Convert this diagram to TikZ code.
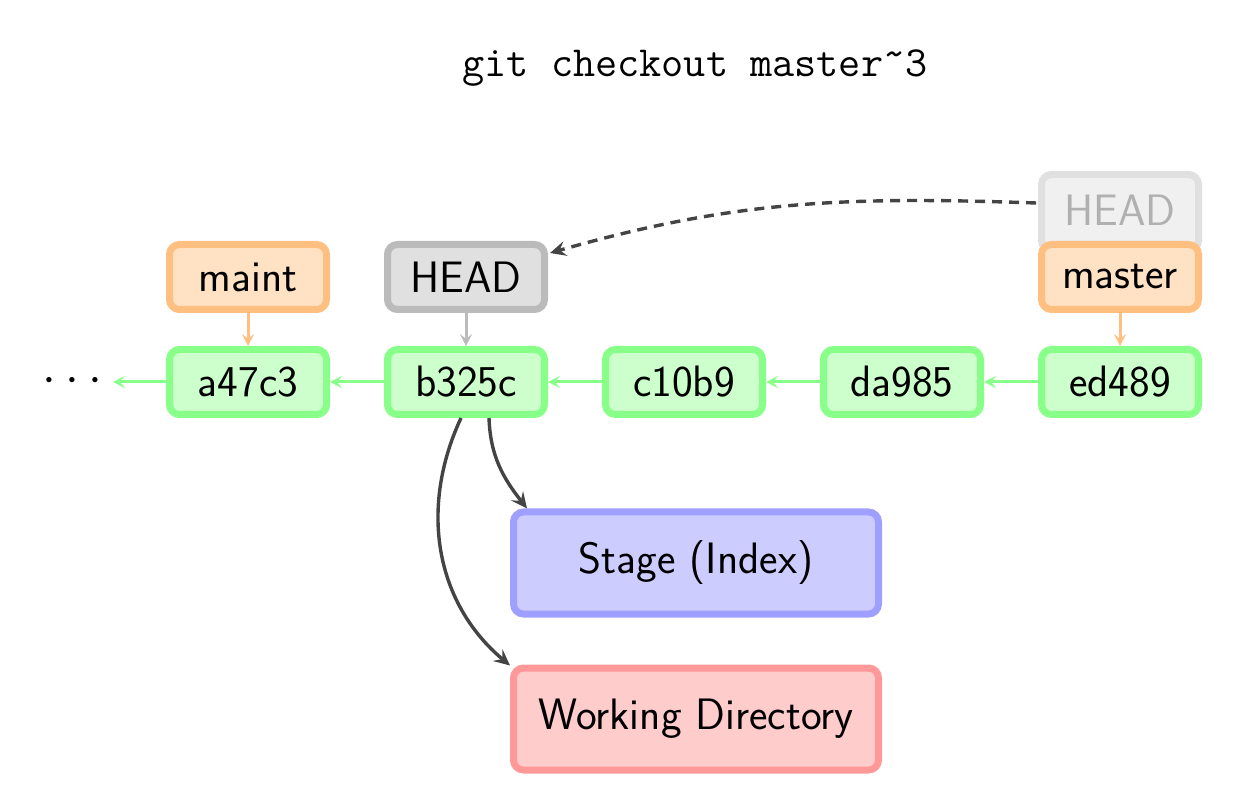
\documentclass[tikz,border=0pt]{standalone}
\usetikzlibrary{arrows.meta,calc}
\definecolor{gbord}{HTML}{88FF88}
\definecolor{gfill}{HTML}{CCFFCC}
\definecolor{obord}{HTML}{FFBF80}
\definecolor{ofill}{HTML}{FFE1C4}
\definecolor{hbord}{HTML}{BBBBBB}
\definecolor{hfill}{HTML}{E0E0E0}
\definecolor{fbord}{HTML}{E0E0E0}
\definecolor{ffill}{HTML}{F0F0F0}
\definecolor{ftext}{HTML}{B0B0B0}
\definecolor{bbord}{HTML}{9F9FFF}
\definecolor{bfill}{HTML}{CCCCFF}
\definecolor{rbord}{HTML}{FF9999}
\definecolor{rfill}{HTML}{FFCCCC}
\definecolor{dark}{HTML}{444444}
\begin{document}
\begin{tikzpicture}[x=0.5bp,y=0.5bp,
  box/.style={rounded corners=5bp,line width=3.5bp,minimum width=78.5bp,minimum height=32.5bp,inner sep=0pt,
    font=\fontsize{22bp}{26bp}\selectfont\sffamily},
  commit/.style={box,draw=gbord,fill=gfill},
  branch/.style={box,draw=obord,fill=ofill},
  headbox/.style={box,draw=hbord,fill=hfill},
  oldhead/.style={box,draw=fbord,fill=ffill,text=ftext,minimum height=38bp},
  area/.style={box,minimum width=182.5bp,minimum height=51bp},
  garrow/.style={draw=gbord,line width=1.5bp,-{Stealth[length=6bp,width=6bp,inset=2.5bp]}},
  oarrow/.style={draw=obord,line width=1.5bp,-{Stealth[length=6bp,width=6bp,inset=2.5bp]}},
  harrow/.style={draw=hbord,line width=1.5bp,-{Stealth[length=6bp,width=6bp,inset=2.5bp]}},
  darrow/.style={draw=dark,line width=1.7bp,-{Stealth[length=8bp,width=7.5bp,inset=3bp]}},
]
\useasboundingbox (0,0) rectangle (1246,808);
\node (title) at (695,740) {\fontsize{21.5bp}{25bp}\selectfont\ttfamily git checkout master\raisebox{0.22em}{\string~}3};
\node[oldhead] (oh) at (1120,595.5) {\raisebox{2.75bp}{HEAD}};
\node[branch] (maint) at (248,531) {maint};
\node[headbox] (head) at (466,531) {HEAD};
\node[branch] (master) at (1120,531) {master};
\node[commit] (a) at (248,426) {a47c3};
\node[commit] (b) at (466,426) {b325c};
\node[commit] (c) at (684,426) {c10b9};
\node[commit] (d) at (902,426) {da985};
\node[commit] (e) at (1120,426) {ed489};
\node[area,draw=bbord,fill=bfill] (stage) at (696,245) {Stage (Index)};
\node[area,draw=rbord,fill=rfill] (wd) at (696,89) {Working Directory};
\node[inner sep=0pt,font=\fontsize{26bp}{30bp}\selectfont] (dots) at (72.5,427) {${\cdot}\hspace{4.8bp}{\cdot}\hspace{4.8bp}{\cdot}$};
\coordinate (dend) at (113,426);
\draw[garrow] (a.west) -- (dend);
\draw[garrow] (b.west) -- (a.east);
\draw[garrow] (c.west) -- (b.east);
\draw[garrow] (d.west) -- (c.east);
\draw[garrow] (e.west) -- (d.east);
\draw[oarrow] (maint.south) -- (a.north);
\draw[oarrow] (master.south) -- (e.north);
\draw[harrow] (head.south) -- (b.north);
\coordinate (ohs) at (1036,605);
\coordinate (hend) at ($(head.east)+(2,24)$);
\draw[darrow,dashed,dash pattern=on 5bp off 3.5bp] (ohs) to[out=178,in=16] (hend);
\coordinate (bs1) at ($(b.south)+(23,0)$);
\coordinate (bs2) at ($(b.south)+(-5,0)$);
\coordinate (st) at ($(stage.north west)+(17,0)$);
\coordinate (wt) at ($(wd.north west)+(0,-1)$);
\draw[darrow] (bs1) to[out=-88,in=128] (st);
\draw[darrow] (bs2) to[out=-115,in=140] (wt);
\end{tikzpicture}
\end{document}
